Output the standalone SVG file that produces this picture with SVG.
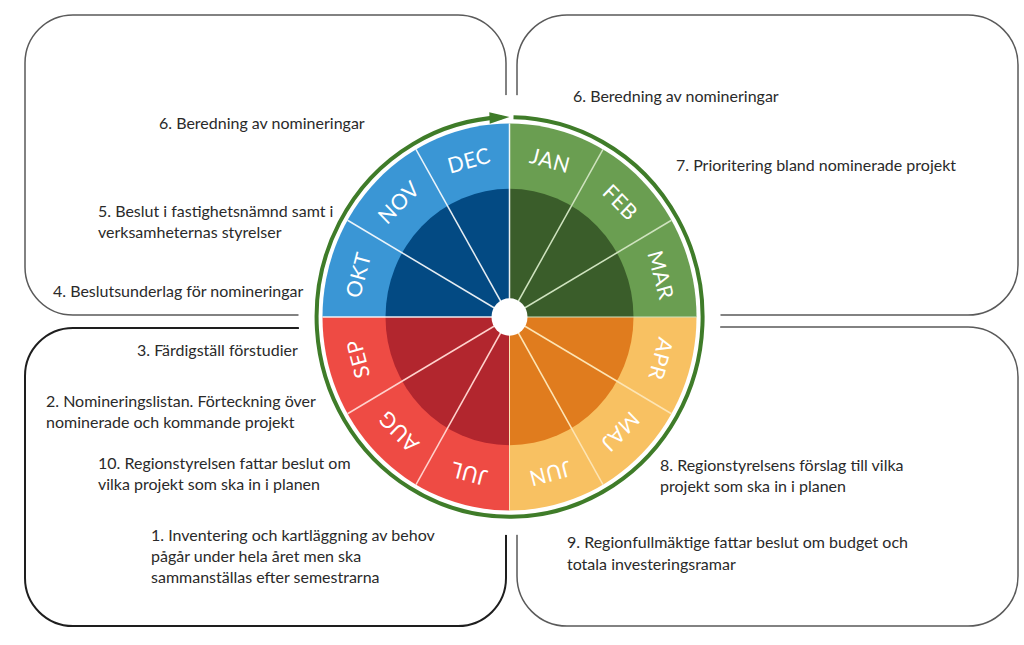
<svg xmlns="http://www.w3.org/2000/svg" width="1024" height="645" viewBox="0 0 1024 645">
<defs>
<style>
.box{fill:none;stroke:#5a5a5a;stroke-width:1.5}
.box-dark{fill:none;stroke:#1e1e1e;stroke-width:2}
.lbl{font-family:Lato,"Open Sans","Liberation Sans",sans-serif;font-size:16px;fill:#2a2a2a}
.mon{font-family:Lato,"Open Sans","Liberation Sans",sans-serif;font-size:21px;fill:#ffffff;text-anchor:middle;dominant-baseline:central;letter-spacing:0.5px}
.div{stroke-width:1.5;fill:none}
.ring{fill:none;stroke:#3f7c29;stroke-width:4}
</style>
<marker id="arrow" markerUnits="userSpaceOnUse" markerWidth="20" markerHeight="11" refX="12" refY="5.5" orient="auto" overflow="visible">
<path d="M0,0 L20,5.5 L0,11 Z" fill="#3f7c29"/>
</marker>
</defs>
<rect width="1024" height="645" fill="#ffffff"/>

<g id="box-top-left"><rect class="box" x="25" y="15" width="481" height="300" rx="48" ry="48"/></g>
<g id="box-top-right"><rect class="box" x="517" y="15" width="501" height="300" rx="50" ry="50"/></g>
<g id="box-bottom-left"><rect class="box-dark" x="25" y="328" width="481" height="298" rx="48" ry="48"/></g>
<g id="box-bottom-right"><rect class="box" x="517" y="327" width="501" height="299" rx="50" ry="50"/></g>

<ellipse cx="509.5" cy="315" rx="211" ry="220" fill="#ffffff"/>

<g id="wheel" transform="translate(509.5,317) scale(1,1.035)">
<path d="M0,0 L-187,0 A187,187 0 0 1 0,-187 Z" fill="#3a96d5"/>
<path d="M0,0 L0,-187 A187,187 0 0 1 187,0 Z" fill="#6a9e51"/>
<path d="M0,0 L187,0 A187,187 0 0 1 0,187 Z" fill="#f8c162"/>
<path d="M0,0 L0,187 A187,187 0 0 1 -187,0 Z" fill="#ee4b44"/>
<path d="M0,0 L-124,0 A124,124 0 0 1 0,-124 Z" fill="#034a83"/>
<path d="M0,0 L0,-124 A124,124 0 0 1 124,0 Z" fill="#3a5d2a"/>
<path d="M0,0 L124,0 A124,124 0 0 1 0,124 Z" fill="#e07c1e"/>
<path d="M0,0 L0,124 A124,124 0 0 1 -124,0 Z" fill="#b2262e"/>
<g class="div" stroke="#ffffff" stroke-opacity="0.9">
<line x1="0" y1="0" x2="0" y2="-187"/>
<line x1="0" y1="0" x2="-187" y2="0"/>
<line x1="0" y1="0" x2="-93.5" y2="-161.95"/>
<line x1="0" y1="0" x2="-161.95" y2="-93.5"/>
</g>
<g class="div" stroke="#cfe3bf">
<line x1="0" y1="0" x2="93.5" y2="-161.95"/>
<line x1="0" y1="0" x2="161.95" y2="-93.5"/>
<line x1="0" y1="0" x2="187" y2="0" stroke-width="1"/>
</g>
<g class="div" stroke="#fde5b5">
<line x1="0" y1="0" x2="161.95" y2="93.5"/>
<line x1="0" y1="0" x2="93.5" y2="161.95"/>
<line x1="0" y1="0" x2="0" y2="187" stroke-width="1"/>
</g>
<g class="div" stroke="#ffd2cd">
<line x1="0" y1="0" x2="-93.5" y2="161.95"/>
<line x1="0" y1="0" x2="-161.95" y2="93.5"/>
</g>
<circle cx="0" cy="0" r="18" fill="#ffffff"/>
<text class="mon" x="0" y="-157" transform="rotate(15)">JAN</text>
<text class="mon" x="0" y="-157" transform="rotate(45)">FEB</text>
<text class="mon" x="0" y="-157" transform="rotate(75)">MAR</text>
<text class="mon" x="0" y="-157" transform="rotate(105)">APR</text>
<text class="mon" x="0" y="-157" transform="rotate(135)">MAJ</text>
<text class="mon" x="0" y="-157" transform="rotate(165)">JUN</text>
<text class="mon" x="0" y="-157" transform="rotate(195)">JUL</text>
<text class="mon" x="0" y="-157" transform="rotate(225)">AUG</text>
<text class="mon" x="0" y="-157" transform="rotate(255)">SEP</text>
<text class="mon" x="0" y="-157" transform="rotate(285)">OKT</text>
<text class="mon" x="0" y="-157" transform="rotate(315)">NOV</text>
<text class="mon" x="0" y="-157" transform="rotate(345)">DEC</text>
</g>

<g id="connectors" transform="translate(509.5,317) scale(1,1.035)">
<path class="ring" d="M4,-192.96 A193,193 0 1 1 -8,-192.83" marker-end="url(#arrow)"/>
</g>

<g id="text-top-left" class="lbl">
<text x="159" y="129">6. Beredning av nomineringar</text>
<text x="98" y="217">5. Beslut i fastighetsnämnd samt i</text>
<text x="98" y="238">verksamheternas styrelser</text>
<text x="53" y="297">4. Beslutsunderlag för nomineringar</text>
</g>
<g id="text-top-right" class="lbl">
<text x="573" y="102">6. Beredning av nomineringar</text>
<text x="676" y="171">7. Prioritering bland nominerade projekt</text>
</g>
<g id="text-bottom-left" class="lbl">
<text x="137" y="356">3. Färdigställ förstudier</text>
<text x="46" y="407">2. Nomineringslistan. Förteckning över</text>
<text x="46" y="428">nominerade och kommande projekt</text>
<text x="98" y="469">10. Regionstyrelsen fattar beslut om</text>
<text x="98" y="490">vilka projekt som ska in i planen</text>
<text x="151" y="541">1. Inventering och kartläggning av behov</text>
<text x="151" y="562">pågår under hela året men ska</text>
<text x="151" y="583">sammanställas efter semestrarna</text>
</g>
<g id="text-bottom-right" class="lbl">
<text x="660" y="471">8. Regionstyrelsens förslag till vilka</text>
<text x="660" y="492">projekt som ska in i planen</text>
<text x="567" y="548">9. Regionfullmäktige fattar beslut om budget och</text>
<text x="567" y="570">totala investeringsramar</text>
</g>
</svg>
